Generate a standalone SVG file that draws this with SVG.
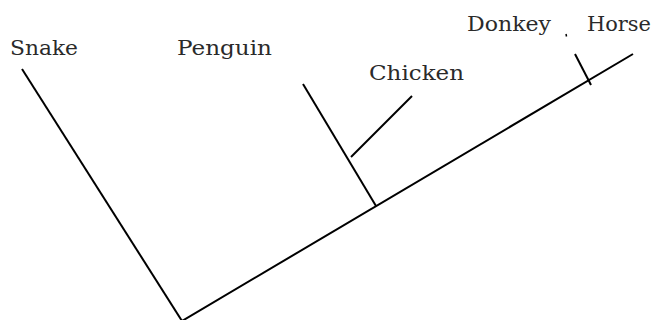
<svg xmlns="http://www.w3.org/2000/svg" width="653" height="320" viewBox="0 0 653 320">
  <style>
    .edge { stroke: #000; stroke-width: 2; fill: none; stroke-linecap: butt; }
    .label { font-family: "DejaVu Serif", "Liberation Serif", serif; font-size: 20px; fill: #2a2a2a; }
  </style>
  <rect width="653" height="320" fill="#fff"/>
  <g id="edges">
    <line class="edge" x1="22" y1="69" x2="182" y2="321"/>
    <line class="edge" x1="182" y1="321" x2="633" y2="54"/>
    <line class="edge" x1="303" y1="84" x2="376" y2="206"/>
    <line class="edge" x1="351" y1="157" x2="412" y2="96"/>
    <line class="edge" x1="575" y1="54" x2="591" y2="85"/>
    <line class="edge" x1="566" y1="34" x2="566.5" y2="36.5" style="stroke-width:1.5"/>
  </g>
  <g id="snake"><text class="label" x="10" y="55" textLength="68" lengthAdjust="spacingAndGlyphs">Snake</text></g>
  <g id="penguin"><text class="label" x="177" y="55" textLength="95" lengthAdjust="spacingAndGlyphs">Penguin</text></g>
  <g id="chicken"><text class="label" x="369" y="80" textLength="95" lengthAdjust="spacingAndGlyphs">Chicken</text></g>
  <g id="donkey"><text class="label" x="467" y="31" textLength="84" lengthAdjust="spacingAndGlyphs">Donkey</text></g>
  <g id="horse"><text class="label" x="587" y="31" textLength="64" lengthAdjust="spacingAndGlyphs">Horse</text></g>
</svg>
